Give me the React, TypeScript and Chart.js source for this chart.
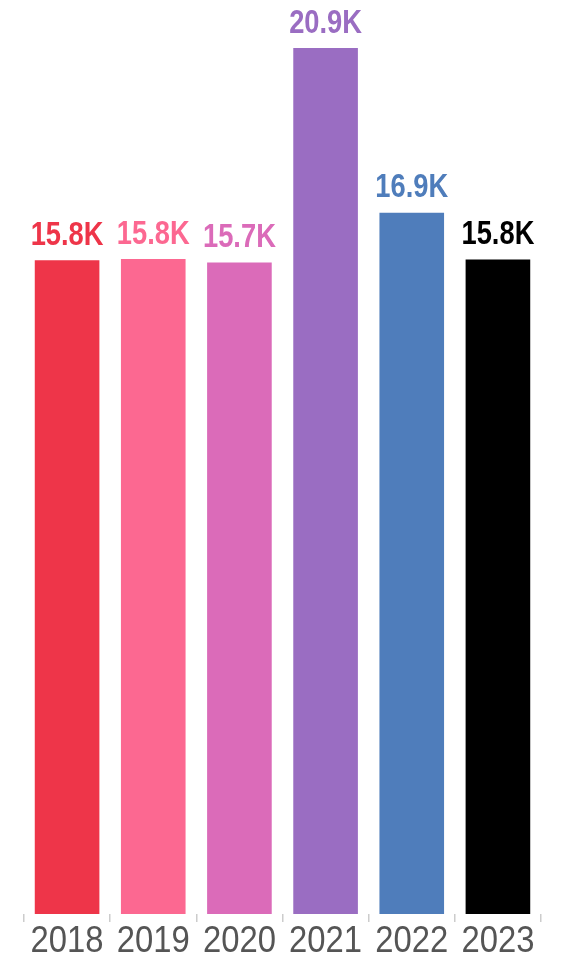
import React, { useEffect, useRef } from "react";
import { Chart, registerables } from "chart.js";

Chart.register(...registerables);

const categories = ["2018", "2019", "2020", "2021", "2022", "2023"];
const values = [15790, 15820, 15740, 20920, 16940, 15810];
const barColors = ["#EE3549", "#FC6891", "#DB6BB9", "#9A6DC2", "#4F7DBB", "#000000"];
const valueLabels = values.map((v) => (v / 1000).toFixed(1) + "K");

const FONT = "'Liberation Sans', Arial, sans-serif";

const labelPlugin = {
  id: "customLabels",
  afterDatasetsDraw(chart: any) {
    const ctx = chart.ctx;
    const meta = chart.getDatasetMeta(0);
    const xScale = chart.scales.x;
    ctx.save();
    // value labels above bars
    meta.data.forEach((bar: any, i: number) => {
      ctx.save();
      ctx.translate(bar.x, bar.y - 15.5);
      ctx.scale(0.84, 1);
      ctx.font = `bold 32.5px ${FONT}`;
      ctx.fillStyle = barColors[i];
      ctx.textAlign = "center";
      ctx.textBaseline = "alphabetic";
      ctx.fillText(valueLabels[i], 0, 0);
      ctx.restore();
    });
    // category labels
    categories.forEach((c, i) => {
      const x = xScale.getPixelForValue(i);
      ctx.save();
      ctx.translate(x, 952.3);
      ctx.scale(0.887, 1);
      ctx.font = `37px ${FONT}`;
      ctx.fillStyle = "#555555";
      ctx.textAlign = "center";
      ctx.textBaseline = "alphabetic";
      ctx.fillText(c, 0, 0);
      ctx.restore();
    });
    ctx.restore();
  },
};

export default function App() {
  const ref = useRef<HTMLCanvasElement | null>(null);
  useEffect(() => {
    if (!ref.current) return;
    const chart = new Chart(ref.current, {
      type: "bar",
      data: {
        labels: categories,
        datasets: [
          {
            data: values,
            backgroundColor: barColors,
            borderWidth: 0,
            barPercentage: 0.75,
            categoryPercentage: 1,
          },
        ],
      },
      options: {
        animation: false,
        responsive: false,
        maintainAspectRatio: false,
        layout: { padding: { left: 24, right: 23, top: 48, bottom: 36 } },
        plugins: { legend: { display: false }, tooltip: { enabled: false } },
        scales: {
          x: {
            offset: true,
            grid: {
              display: true,
              offset: true,
              drawOnChartArea: false,
              drawTicks: true,
              tickLength: 8,
              color: "#cccccc",
              lineWidth: 1.5,
            },
            border: { display: false },
            ticks: { display: false },
          },
          y: {
            display: false,
            min: 0,
            max: 20920,
          },
        },
      },
      plugins: [labelPlugin],
    });
    return () => chart.destroy();
  }, []);
  return (
    <div style={{ position: "fixed", left: 0, top: 0, width: 564, height: 958, background: "#fff" }}>
      <canvas ref={ref} width={564} height={958} style={{ display: "block", width: 564, height: 958 }} />
    </div>
  );
}
